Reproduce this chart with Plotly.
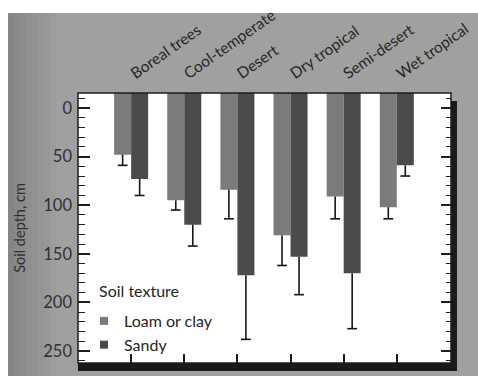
import plotly.graph_objects as go

# Rooting depth by biome and soil texture
categories = ["Boreal trees", "Cool-temperate", "Desert", "Dry tropical", "Semi-desert", "Wet tropical"]
loam_depth = [48, 95, 84, 131, 91, 102]
loam_err = [11, 10, 30, 31, 23, 12]
sandy_depth = [73, 120, 172, 153, 170, 59]
sandy_err = [17, 22, 66, 39, 57, 11]
y_ticks = [0, 50, 100, 150, 200, 250]

Y_TOP = -15.4      # bars hang from the top frame
Y_BOTTOM = 262.3
X_RANGE = [-1.0, 6.02]
BAR_W = 0.32

LOAM = "#7b7b7b"
SANDY = "#4b4b4b"
INK = "#262626"
FONT = "Lato"

x = list(range(len(categories)))
loam_x = [i - BAR_W / 2 for i in x]
sandy_x = [i + BAR_W / 2 for i in x]

fig = go.Figure()

def err(vals):
    # one-sided (deeper) error whisker, cap added separately
    return dict(type="data", symmetric=False, array=vals, arrayminus=[0] * len(vals),
                color="#151515", thickness=1.6, width=0)

for xs, depth, e, col, name in [(loam_x, loam_depth, loam_err, LOAM, "Loam or clay"),
                                (sandy_x, sandy_depth, sandy_err, SANDY, "Sandy")]:
    fig.add_trace(go.Bar(x=xs, y=[d - Y_TOP for d in depth], base=Y_TOP, width=BAR_W,
                         marker=dict(color=col, line=dict(width=0)),
                         error_y=err(e), name=name, showlegend=False))
    fig.add_trace(go.Scatter(x=xs, y=[d + v for d, v in zip(depth, e)], mode="markers",
                             marker=dict(symbol="line-ew", size=7,
                                         line=dict(color="#151515", width=1.6)),
                             showlegend=False, hoverinfo="skip"))

# legend entries with small square swatches
for name, col in [("Loam or clay", LOAM), ("Sandy", SANDY)]:
    fig.add_trace(go.Scatter(x=[None], y=[None], mode="markers", name=name,
                             marker=dict(symbol="square", size=8, color=col)))

# helper traces so the top and right axes are drawn
fig.add_trace(go.Scatter(x=[None], y=[None], xaxis="x2", yaxis="y", showlegend=False, hoverinfo="skip"))
fig.add_trace(go.Scatter(x=[None], y=[None], xaxis="x", yaxis="y2", showlegend=False, hoverinfo="skip"))

W, H = 478, 376
L, R, T, B = 78, 27, 93, 13
pw, ph = W - L - R, H - T - B
grey_top = 1 + (T - 13) / ph
grey_left = (8 - L) / pw

shapes = [
    # white page margins around the grey print
    dict(type="rect", xref="paper", yref="paper", x0=-0.5, x1=1.5,
         y0=grey_top, y1=1.6, fillcolor="white", line=dict(width=0), layer="below"),
    dict(type="rect", xref="paper", yref="paper", x0=-0.5, x1=grey_left,
         y0=-0.2, y1=1.6, fillcolor="white", line=dict(width=0), layer="below"),
]
# soft darkening towards the left edge of the grey print
for k in range(1, 9):
    shapes.append(dict(type="rect", xref="paper", yref="paper", x0=grey_left,
                       x1=grey_left + 6 * k / pw, y0=-0.2, y1=grey_top,
                       fillcolor="rgba(0,0,0,0.02)", line=dict(width=0), layer="below"))
shapes += [
    # plot frame
    dict(type="rect", xref="paper", yref="paper", x0=0, x1=1, y0=0, y1=1,
         line=dict(color="#1e1e1e", width=1.5)),
    # heavy bottom and right edges
    dict(type="line", xref="paper", yref="paper", x0=0, x1=1 + 6 / pw,
         y0=-4 / ph, y1=-4 / ph, line=dict(color="#1a1a1a", width=8)),
    dict(type="line", xref="paper", yref="paper", x0=1 + 3 / pw, x1=1 + 3 / pw,
         y0=-8 / ph, y1=1 - 8 / ph, line=dict(color="#1a1a1a", width=6)),
]

fig.update_layout(
    width=W, height=H,
    margin=dict(l=L, r=R, t=T, b=B, autoexpand=False),
    paper_bgcolor="#a0a0a0",
    plot_bgcolor="white",
    barmode="overlay",
    font=dict(family=FONT, color=INK),
    shapes=shapes,
    annotations=[dict(text="Soil texture", xref="paper", yref="paper",
                      x=(97 - L) / pw, y=1 - (290 - T) / ph, xanchor="left", yanchor="middle",
                      showarrow=False, font=dict(size=16, color=INK))],
    xaxis=dict(range=X_RANGE, tickvals=x, ticktext=[""] * len(x), ticks="inside",
               ticklen=9, tickwidth=1.5, tickcolor="#1e1e1e", showgrid=False,
               zeroline=False, showline=False, fixedrange=True),
    xaxis2=dict(range=X_RANGE, overlaying="x", side="top", anchor="y",
                tickvals=x, ticktext=categories, tickangle=-35, ticks="",
                ticklabelstandoff=8, tickfont=dict(size=15.5, color="#262626"),
                showgrid=False, zeroline=False, showline=False),
    yaxis=dict(range=[Y_BOTTOM, Y_TOP], tickvals=y_ticks, ticks="inside", ticklen=12,
               tickwidth=1.5, tickcolor="#1e1e1e",
               minor=dict(dtick=10, tick0=0, ticks="inside", ticklen=7, tickwidth=1.3,
                          tickcolor="#1e1e1e", showgrid=False),
               tickfont=dict(size=16.5, color="#303030"), ticklabelstandoff=5,
               showgrid=False, zeroline=False, showline=False,
               title=dict(text="Soil depth, cm", font=dict(size=14.5, color="#303030"), standoff=14)),
    yaxis2=dict(range=[Y_BOTTOM, Y_TOP], overlaying="y", side="right", anchor="x",
                tickvals=y_ticks, ticks="inside", ticklen=10, tickwidth=1.5,
                tickcolor="#1e1e1e", showticklabels=False,
                minor=dict(dtick=10, tick0=0, ticks="inside", ticklen=5, tickwidth=1.3,
                           tickcolor="#1e1e1e", showgrid=False),
                showgrid=False, zeroline=False, showline=False),
    legend=dict(x=6 / pw, y=1 - (304 - T) / ph, xanchor="left", yanchor="top",
                bgcolor="rgba(0,0,0,0)", font=dict(size=16, color=INK), tracegroupgap=0),
)

fig.write_html("out.html")
